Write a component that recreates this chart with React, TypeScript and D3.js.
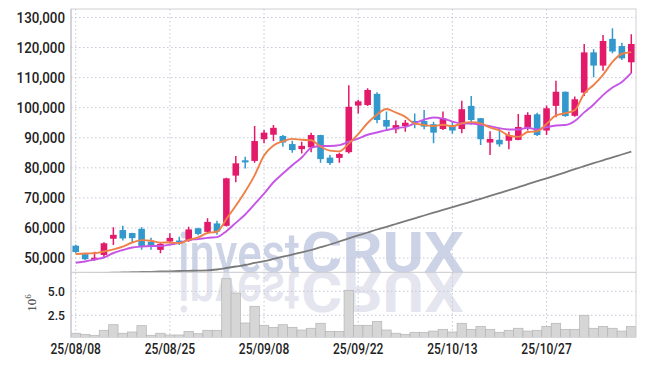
import React from "react";
import * as d3 from "d3";

const dates = [
  "25/08/08","25/08/11","25/08/12","25/08/13","25/08/14","25/08/18","25/08/19","25/08/20","25/08/21","25/08/22",
  "25/08/25","25/08/26","25/08/27","25/08/28","25/08/29","25/09/01","25/09/02","25/09/03","25/09/04","25/09/05",
  "25/09/08","25/09/09","25/09/10","25/09/11","25/09/12","25/09/15","25/09/16","25/09/17","25/09/18","25/09/19",
  "25/09/22","25/09/23","25/09/24","25/09/25","25/09/26","25/09/29","25/09/30","25/10/01","25/10/02","25/10/10",
  "25/10/13","25/10/14","25/10/15","25/10/16","25/10/17","25/10/20","25/10/21","25/10/22","25/10/23","25/10/24",
  "25/10/27","25/10/28","25/10/29","25/10/30","25/10/31","25/11/03","25/11/04","25/11/05","25/11/06","25/11/07",
];

const opens = [54100,51300,49300,51000,56400,59300,58300,59700,55400,52700,55500,55800,55800,59900,58700,61500,60700,77400,82500,82300,89500,91000,90600,87900,86200,86800,90900,83400,83300,85200,100700,100900,104600,95900,92800,93900,95600,95600,94500,92900,94200,92900,100600,96500,88400,89300,89000,89300,93400,97800,92400,100600,105300,97300,105000,118400,114000,122900,120500,115100];
const highs = [54400,51600,52100,55200,60200,60700,58400,60200,56700,55100,58200,57100,60400,60100,63200,62400,76700,83900,83700,93900,92600,94200,90900,89000,88700,91700,91000,84300,85000,107500,102600,106500,105100,98700,95700,95900,98100,99200,95300,98700,95300,102300,103900,96600,92200,93100,92000,97900,98500,98300,100700,109000,105400,103700,121200,119400,124200,126400,121600,124400];
const lows = [51700,49300,49100,50200,54300,55800,55100,52700,52700,51600,54900,54300,55400,57600,58000,57700,60500,75200,79800,81700,88200,88900,87000,85000,84800,85200,81700,80900,81700,84800,98100,100600,94800,92600,91500,92000,93200,92800,88200,92600,91300,91500,94300,87600,84300,87000,86200,89200,92400,90600,90900,96800,97000,97000,103900,110100,112300,118100,115900,111500];
const closes = [52000,49600,50100,54900,57700,56500,56600,54000,53800,54700,56700,55300,59500,58000,62000,58800,76500,81500,81800,88900,91700,93300,88400,85900,87300,90900,82900,81600,84600,100300,102100,105900,95900,93700,94200,95000,94800,93700,91700,96500,92400,99500,95900,89500,89600,87800,90900,93600,97600,90900,99800,105300,97200,102800,118400,114000,122200,118700,116400,121200];
const volumes = [630000,520000,420000,940000,1520000,630000,760000,1420000,420000,630000,450000,450000,830000,580000,940000,940000,6310000,4820000,1700000,3440000,1460000,1250000,1520000,1250000,970000,1150000,1670000,830000,830000,5100000,1460000,1460000,1870000,970000,630000,520000,730000,730000,860000,1040000,760000,1670000,1040000,1350000,1040000,730000,940000,1150000,860000,940000,1350000,1670000,1040000,1040000,2500000,1150000,1350000,1150000,860000,1350000];
const ma5 = [51330,51500,51560,52160,52860,53760,55160,55940,55720,55120,55160,54900,56000,56840,58300,58720,62960,67360,72120,77500,84080,87440,88820,89640,89320,89160,87080,85720,85460,88060,91200,94900,97760,99580,98360,96940,94720,94280,93880,94340,93820,94760,95200,94760,93380,92460,90740,90280,91900,92160,94560,97440,98160,99200,104700,107540,110920,115220,117940,118500];
const ma10 = [48440,48840,49500,50170,51660,52660,53490,53830,53990,53990,54460,55030,55970,56280,56710,56940,58930,61680,64480,67900,71400,75200,78090,80880,83410,86620,87260,87270,87550,88690,89730,90990,91740,92520,93210,93620,94810,96020,96730,96350,95380,94740,94740,94320,93860,93140,92750,92740,93330,92770,93510,94090,94220,95550,98430,101050,104180,106690,108570,111600];
const ma60 = [44800,44880,44960,45030,45100,45190,45270,45340,45410,45510,45575,45670,45740,45810,45870,46170,46670,47170,47670,48340,48940,49670,50430,51130,51860,52660,53590,54490,55490,56550,57490,58480,59480,60380,61310,62240,63170,64140,65070,65970,66900,67830,68760,69700,70630,71590,72560,73550,74550,75550,76520,77510,78510,79540,80540,81540,82500,83500,84430,85370];
const priceTicks = [50000,60000,70000,80000,90000,100000,110000,120000,130000];
const volTicks = [2500000,5000000];
const dateTicks = ["25/08/08","25/08/25","25/09/08","25/09/22","25/10/13","25/10/27"];

const W = 645, H = 366;
const L = 71, R = 636, T = 9, MB = 272.3, VB = 337.3;
const UP = "#e3196a", DOWN = "#3399cc";
const GRID = "#c4c7d6";
const LABEL_FONT = "Roboto, 'Noto Sans', sans-serif";

function Watermark({ fill, weightInvest }: { fill: string; weightInvest: number }) {
  return (
    <g>
      <text x={178} y={MB} fill={fill} fontFamily="Roboto, sans-serif" fontWeight={weightInvest} fontSize={56}
        textLength={122} lengthAdjust="spacingAndGlyphs">invest</text>
      <text x={301} y={MB} fill={fill} fontFamily="Roboto, sans-serif" fontWeight={700} fontSize={55}
        textLength={163} lengthAdjust="spacingAndGlyphs">CRUX</text>
    </g>
  );
}

export default function App() {
  const x = d3.scaleBand<string>().domain(dates).range([L, R]).padding(0);
  const bw = x.bandwidth();
  const cx = (i: number) => (x(dates[i]) as number) + bw / 2;
  const y = d3.scaleLinear().domain([45240, 132830]).range([MB, T]);
  const yv = d3.scaleLinear().domain([0, 7000000]).range([339.3, 272.1]);

  const lineGen = (arr: number[]) =>
    d3.line<number>().x((_, i) => cx(i)).y((d) => y(d)).curve(d3.curveMonotoneX)(arr) || "";

  const fmt = d3.format(",");

  return (
    <svg width={W} height={H} style={{ display: "block", position: "absolute", left: 0, top: 0 }}>
      <defs>
        <clipPath id="mainClip"><rect x={L} y={T} width={R - L} height={MB - T} /></clipPath>
        <clipPath id="volClip"><rect x={L} y={MB} width={R - L} height={VB - MB} /></clipPath>
      </defs>
      <rect x={0} y={0} width={W} height={H} fill="#fff" />

      {/* watermark and its reflection */}
      <g clipPath="url(#mainClip)">
        <Watermark fill="#cdd3e6" weightInvest={500} />
      </g>
      <g clipPath="url(#volClip)">
        <g transform={`translate(0, ${2 * MB}) scale(1,-1)`}>
          <Watermark fill="#e4e5ee" weightInvest={500} />
        </g>
      </g>

      {/* grids */}
      {priceTicks.map((p) => (
        <line key={"pg" + p} x1={L} x2={R} y1={y(p)} y2={y(p)} stroke={GRID} strokeDasharray="1.5,2.5" />
      ))}
      {volTicks.map((v) => (
        <line key={"vg" + v} x1={L} x2={R} y1={yv(v)} y2={yv(v)} stroke={GRID} strokeDasharray="1.5,2.5" />
      ))}
      {dateTicks.map((d) => {
        const xx = (x(d) as number) + bw / 2;
        return <line key={"dg" + d} x1={xx} x2={xx} y1={T} y2={VB} stroke={GRID} strokeDasharray="1.5,2.5" />;
      })}

      {/* volume */}
      <g clipPath="url(#volClip)">
        {volumes.map((v, i) => (
          <rect key={"v" + i} x={x(dates[i]) as number} y={yv(v)} width={bw} height={Math.max(0, 339.3 - yv(v))}
            fill="#d6d6d6" stroke="#b4b4b4" strokeWidth={0.7} />
        ))}
      </g>

      {/* candles */}
      <g clipPath="url(#mainClip)">
        {dates.map((d, i) => {
          const o = opens[i], c = closes[i], h = highs[i], l = lows[i];
          const col = c >= o ? UP : DOWN;
          const top = y(Math.max(o, c)), bot = y(Math.min(o, c));
          return (
            <g key={"c" + i}>
              <line x1={cx(i)} x2={cx(i)} y1={y(h)} y2={y(l)} stroke={col} strokeWidth={1.5} />
              <rect x={cx(i) - 3.3} y={top} width={6.6} height={Math.max(1.2, bot - top)} fill={col} />
            </g>
          );
        })}
        <path d={lineGen(ma60)} fill="none" stroke="#7a7a7a" strokeWidth={1.8} />
        <path d={lineGen(ma10)} fill="none" stroke="#c655e6" strokeWidth={1.9} />
        <path d={lineGen(ma5)} fill="none" stroke="#ef8148" strokeWidth={1.9} />
      </g>

      {/* frame */}
      <rect x={L} y={T} width={R - L} height={VB - T} fill="none" stroke="#d0d0d6" strokeWidth={1} />
      <line x1={L} x2={R} y1={MB} y2={MB} stroke="#c8c8ce" strokeWidth={1} />
      <line x1={L} x2={L} y1={T} y2={VB} stroke="#c0c0c8" strokeWidth={1} />

      {/* price labels */}
      {priceTicks.map((p) => (
        <text key={"pl" + p} transform={`translate(65, ${y(p) + 5.2}) scale(0.92,1)`} textAnchor="end"
          fontFamily={LABEL_FONT} fontWeight={500} fontSize={14.5} fill="#222">{fmt(p)}</text>
      ))}
      {volTicks.map((v) => (
        <text key={"vl" + v} transform={`translate(65, ${yv(v) + 4.6}) scale(0.9,1)`} textAnchor="end"
          fontFamily={LABEL_FONT} fontWeight={500} fontSize={13.5} fill="#222">{(v / 1e6).toFixed(1)}</text>
      ))}
      <text transform="translate(36, 303) rotate(-90)" textAnchor="middle" fontFamily="'Liberation Serif', 'DejaVu Serif', serif" fontSize={13} fill="#333">
        10<tspan dy={-5} fontSize={9}>6</tspan>
      </text>

      {/* date labels */}
      {dateTicks.map((d) => (
        <text key={"dl" + d} transform={`translate(${(x(d) as number) + bw / 2}, 354) scale(0.86,1)`} textAnchor="middle"
          fontFamily={LABEL_FONT} fontWeight={500} fontSize={14} fill="#222">{d}</text>
      ))}
    </svg>
  );
}
